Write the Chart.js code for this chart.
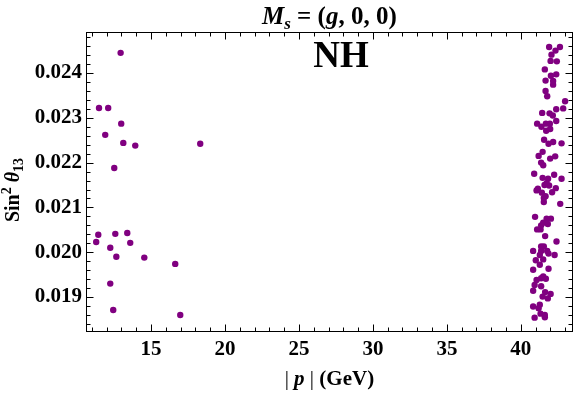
<!DOCTYPE html>
<html><head><meta charset="utf-8">
<script src="https://cdn.jsdelivr.net/npm/chart.js@4/dist/chart.umd.min.js"></script>
<style>html,body{margin:0;padding:0;background:#fff}#wrap{width:576px;height:395px}</style>
</head><body><div id="wrap"><canvas id="c" width="576" height="395"></canvas></div>
<script>
// |p| in GeV
const pValues = [
  12.95,11.49,12.11,12.99,11.91,13.13,13.94,18.33,12.52,11.30,11.44,12.59,13.40,13.60,12.25,12.66,14.55,16.64,12.25,12.45,16.98,
  41.91,42.64,42.34,42.07,42.01,42.43,41.62,42.03,42.39,42.18,42.18,41.67,41.67,41.78,42.99,42.86,42.39,41.44,41.94,42.16,
  42.39,41.10,41.39,41.69,41.96,41.98,41.71,41.57,42.18,41.87,42.75,41.47,41.20,42.32,41.98,41.37,41.51,40.90,41.47,41.84,
  42.25,42.75,41.74,41.60,41.91,41.15,41.06,41.42,42.36,42.11,41.67,41.55,41.55,42.66,40.96,41.74,42.03,41.51,41.82,41.37,
  41.10,41.33,41.64,42.41,41.37,41.55,40.83,41.37,41.78,41.87,42.28,41.28,41.01,41.51,41.28,41.87,40.83,41.51,41.37,41.69,
  41.06,40.93,41.37,40.83,41.64,42.01,41.82,41.47,40.83,41.20,41.28,41.33,41.62,40.93,41.62
];
// Sin^2 theta_13
const sin2Values = [
  0.02445,0.02322,0.02322,0.02287,0.02262,0.02244,0.02238,0.02242,0.02188,0.02023,0.02039,0.02041,0.02043,0.02021,0.02010,0.01990,0.01988,0.01974,0.01930,0.01871,0.01860,
  0.02458,0.02458,0.02450,0.02441,0.02427,0.02426,0.02408,0.02394,0.02397,0.02382,0.02374,0.02383,0.02360,0.02348,0.02337,0.02321,0.02319,0.02311,0.02310,0.02305,
  0.02293,0.02287,0.02280,0.02287,0.02287,0.02275,0.02271,0.02251,0.02246,0.02242,0.02243,0.02224,0.02215,0.02214,0.02209,0.02200,0.02194,0.02175,0.02166,0.02164,
  0.02173,0.02164,0.02154,0.02150,0.02149,0.02142,0.02138,0.02133,0.02143,0.02134,0.02125,0.02121,0.02112,0.02108,0.02079,0.02075,0.02075,0.02066,0.02063,0.02060,
  0.02051,0.02051,0.02036,0.02024,0.02013,0.02013,0.02003,0.02003,0.02003,0.01997,0.01994,0.01994,0.01982,0.01984,0.01972,0.01963,0.01961,0.01946,0.01942,0.01941,
  0.01938,0.01927,0.01924,0.01914,0.01911,0.01907,0.01897,0.01901,0.01879,0.01875,0.01883,0.01863,0.01860,0.01854,0.01855
];
const xTicks = [15, 20, 25, 30, 35, 40];
const yTicks = [0.019, 0.020, 0.021, 0.022, 0.023, 0.024];
const xRange = [10.61, 43.51];
const yRange = [0.01822, 0.024915];

const SERIF = '"Liberation Serif", "DejaVu Serif", serif';
const points = pValues.map((p, i) => ({x: p, y: sin2Values[i]}));

function drawPieces(ctx, pieces) {
  let w = 0;
  pieces.forEach(pc => { ctx.font = pc.f; pc.w = ctx.measureText(pc.t).width; w += pc.w; });
  return w;
}

const framePlugin = {
  id: 'frame',
  afterDraw(chart) {
    const ctx = chart.ctx, a = chart.chartArea;
    const xs = chart.scales.x, ys = chart.scales.y;
    ctx.save();
    ctx.strokeStyle = '#000';
    ctx.lineWidth = 1;
    const L = Math.round(a.left) + 0.5, R = Math.round(a.right) - 0.5;
    const T = Math.round(a.top) + 0.5, B = Math.round(a.bottom) - 0.5;
    ctx.strokeRect(L, T, R - L, B - T);
    ctx.beginPath();
    for (let v = Math.ceil(xRange[0]); v <= xRange[1]; v++) {
      const px = Math.round(xs.getPixelForValue(v)) + 0.5;
      const len = v % 5 === 0 ? 7 : 4;
      ctx.moveTo(px, B); ctx.lineTo(px, B - len);
      ctx.moveTo(px, T); ctx.lineTo(px, T + len);
    }
    for (let k = Math.ceil(yRange[0] / 0.0002); k * 0.0002 <= yRange[1]; k++) {
      const py = Math.round(ys.getPixelForValue(k * 0.0002)) + 0.5;
      const len = k % 5 === 0 ? 7 : 4;
      ctx.moveTo(L, py); ctx.lineTo(L + len, py);
      ctx.moveTo(R, py); ctx.lineTo(R - len, py);
    }
    ctx.stroke();

    ctx.fillStyle = '#000';
    ctx.textBaseline = 'alphabetic';
    // Title
    const cx = (a.left + a.right) / 2;
    let title = [
      {t: 'M', f: 'italic bold 25px ' + SERIF, dy: 0},
      {t: 's', f: 'italic bold 17px ' + SERIF, dy: 5},
      {t: ' = (', f: 'bold 25px ' + SERIF, dy: 0},
      {t: 'g', f: 'italic bold 25px ' + SERIF, dy: 0},
      {t: ', 0, 0)', f: 'bold 25px ' + SERIF, dy: 0}
    ];
    let w = drawPieces(ctx, title), x = cx - w / 2;
    title.forEach(pc => { ctx.font = pc.f; ctx.fillText(pc.t, x, 24 + pc.dy); x += pc.w; });

    // NH
    ctx.font = 'bold 37px ' + SERIF;
    ctx.textAlign = 'center';
    ctx.fillText('NH', 341, 67);
    ctx.textAlign = 'left';

    // X title
    let xt = [
      {t: '|', f: '21px ' + SERIF},
      {t: ' ', f: 'bold 21px ' + SERIF},
      {t: 'p', f: 'italic bold 21px ' + SERIF},
      {t: ' ', f: 'bold 21px ' + SERIF},
      {t: '|', f: '21px ' + SERIF},
      {t: ' (GeV)', f: 'bold 21px ' + SERIF}
    ];
    w = drawPieces(ctx, xt); x = cx - w / 2;
    xt.forEach(pc => { ctx.font = pc.f; ctx.fillText(pc.t, x, 385); x += pc.w; });

    // Y title
    let yt = [
      {t: 'Sin', f: 'bold 20px ' + SERIF, dy: 0},
      {t: '2', f: 'bold 14px ' + SERIF, dy: -8},
      {t: ' ', f: 'bold 20px ' + SERIF, dy: 0},
      {t: 'θ', f: 'italic bold 20px ' + SERIF, dy: 0},
      {t: '13', f: 'bold 14px ' + SERIF, dy: 4}
    ];
    w = drawPieces(ctx, yt);
    ctx.translate(19, 190);
    ctx.rotate(-Math.PI / 2);
    x = -w / 2;
    yt.forEach(pc => { ctx.font = pc.f; ctx.fillText(pc.t, x, pc.dy); x += pc.w; });
    ctx.restore();
  }
};

new Chart(document.getElementById('c'), {
  type: 'scatter',
  data: {
    datasets: [{
      data: points,
      backgroundColor: 'rgb(128,0,128)',
      borderWidth: 0,
      pointRadius: 3.2,
      pointHoverRadius: 3.2
    }]
  },
  options: {
    responsive: false,
    animation: false,
    devicePixelRatio: 1,
    layout: {padding: {left: 0, top: 32, right: 2, bottom: 0}},
    plugins: {legend: {display: false}, tooltip: {enabled: false}, title: {display: false}},
    scales: {
      x: {
        type: 'linear', min: xRange[0], max: xRange[1],
        grid: {display: false, drawTicks: false},
        border: {display: false},
        afterBuildTicks: s => { s.ticks = xTicks.map(v => ({value: v})); },
        afterFit: s => { s.height = 63; },
        ticks: {color: '#000', padding: 5, maxRotation: 0, font: {family: SERIF, size: 21, weight: 'bold'}, callback: v => String(v)}
      },
      y: {
        type: 'linear', min: yRange[0], max: yRange[1],
        grid: {display: false, drawTicks: false},
        border: {display: false},
        afterBuildTicks: s => { s.ticks = yTicks.map(v => ({value: v})); },
        afterFit: s => { s.width = 86; },
        ticks: {color: '#000', padding: 4, font: {family: SERIF, size: 21, weight: 'bold'}, callback: v => Number(v).toFixed(3)}
      }
    }
  },
  plugins: [framePlugin]
});
</script></body></html>
